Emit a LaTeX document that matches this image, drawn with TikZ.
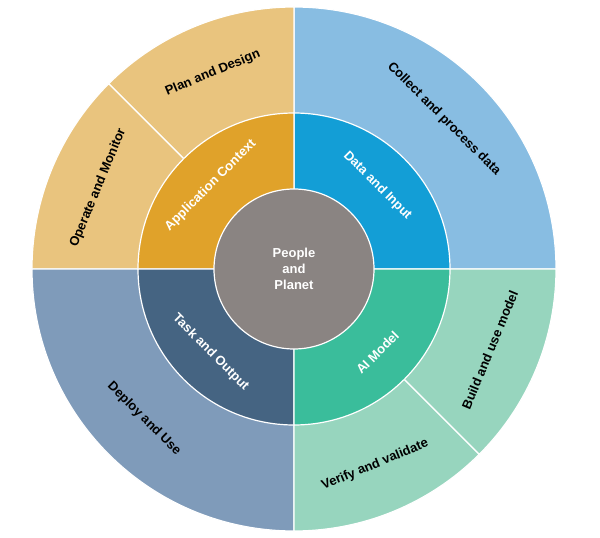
\documentclass[tikz,border=0pt]{standalone}
\usepackage{fontspec}
\setmainfont{Liberation Sans}
\usetikzlibrary{positioning}
\definecolor{outorange}{HTML}{E9C47E}
\definecolor{outblue}{HTML}{88BDE2}
\definecolor{outslate}{HTML}{7F9BBA}
\definecolor{outgreen}{HTML}{97D5BE}
\definecolor{midorange}{HTML}{E0A22A}
\definecolor{midblue}{HTML}{139ED6}
\definecolor{middark}{HTML}{456482}
\definecolor{midteal}{HTML}{3ABD9B}
\definecolor{coregray}{HTML}{8A8482}
% wedge from the centre: #1 style, #2 start angle, #3 end angle, #4 radius
\newcommand{\wedgepart}[4]{\filldraw[#1] (0,0) -- (#2:#4) arc (#2:#3:#4) -- cycle;}

\begin{document}
\begin{tikzpicture}[
  x=1pt,y=1pt,
  font=\bfseries\fontsize{13}{16}\selectfont,
  every node/.style={align=center},
  seg/.style={draw=white,line width=1.2pt},
  outlabel/.style={text=black},
  midlabel/.style={text=white}]
  \useasboundingbox (-294,-269) rectangle (306,269);
  % outer ring
  \wedgepart{seg,fill=outblue}{0}{90}{262}
  \wedgepart{seg,fill=outorange}{90}{135}{262}
  \wedgepart{seg,fill=outorange}{135}{180}{262}
  \wedgepart{seg,fill=outslate}{180}{270}{262}
  \wedgepart{seg,fill=outgreen}{270}{315}{262}
  \wedgepart{seg,fill=outgreen}{315}{360}{262}
  % middle ring
  \wedgepart{seg,fill=midblue}{0}{90}{156}
  \wedgepart{seg,fill=midorange}{90}{180}{156}
  \wedgepart{seg,fill=middark}{180}{270}{156}
  \wedgepart{seg,fill=midteal}{270}{360}{156}
  % core
  \filldraw[seg,fill=coregray] (0,0) circle (80);
  \node[midlabel] (core) at (0,0) {People\\and\\Planet};

  \node[outlabel,rotate=-45] (collect) at (45:212) {Collect and process data};
  \node[outlabel,rotate=22.5] (plan) at (112.5:212) {Plan and Design};
  \node[outlabel,rotate=67.5] (operate) at (157.5:212) {Operate and Monitor};
  \node[outlabel,rotate=-45] (deploy) at (225:212) {Deploy and Use};
  \node[outlabel,rotate=22.5] (verify) at (-67.5:212) {Verify and validate};
  \node[outlabel,rotate=67.5] (build) at (-22.5:212) {Build and use model};

  \node[midlabel,rotate=45] (context) at (135:118) {Application Context};
  \node[midlabel,rotate=-45] (datain) at (45:118) {Data and Input};
  \node[midlabel,rotate=-45] (task) at (225:118) {Task and Output};
  \node[midlabel,rotate=45] (aimodel) at (315:118) {AI Model};
\end{tikzpicture}
\end{document}
